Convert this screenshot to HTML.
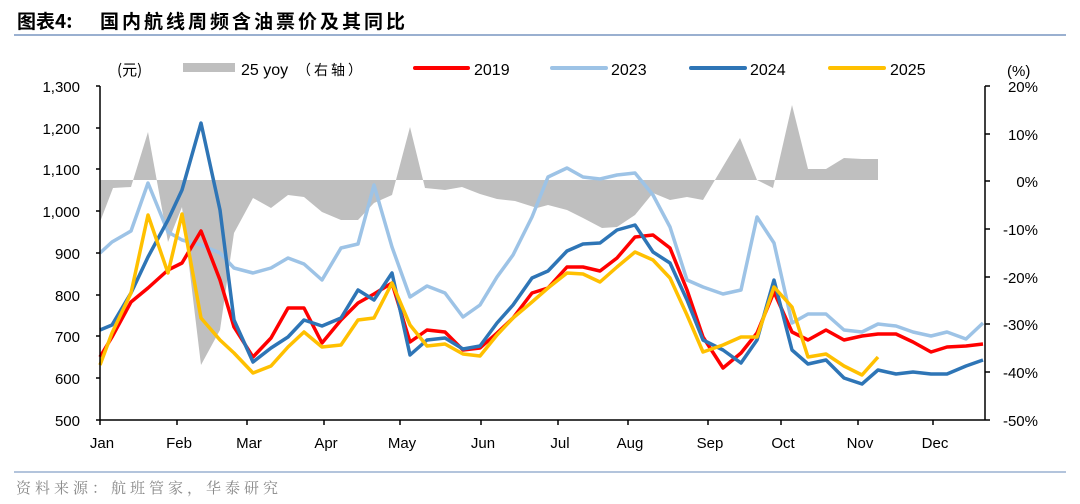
<!DOCTYPE html>
<html><head><meta charset="utf-8"><style>
body{margin:0;background:#fff;}
svg{display:block;font-family:"Liberation Sans","Noto Sans CJK SC",sans-serif;}
</style></head><body>
<svg width="1080" height="504" viewBox="0 0 1080 504" xmlns="http://www.w3.org/2000/svg">
<text x="17" y="28" font-size="19" font-weight="bold" font-family="'Noto Sans CJK SC',sans-serif">图表4:</text>
<text x="100" y="28" font-size="19" font-weight="bold" font-family="'Noto Sans CJK SC',sans-serif" letter-spacing="3">国内航线周频含油票价及其同比</text>
<line x1="14" y1="35" x2="1066" y2="35" stroke="#9ab0d0" stroke-width="2"/>
<!-- legend -->
<text x="117" y="75" font-size="15" font-family="'Noto Sans CJK SC',sans-serif">(元)</text>
<rect x="183" y="63" width="52" height="9" fill="#bfbfbf"/>
<text x="241" y="75" font-size="16">25 yoy</text>
<text x="297" y="75" font-size="14" letter-spacing="3" font-family="'Noto Sans CJK SC',sans-serif">（右轴）</text>
<line x1="415" y1="68" x2="468" y2="68" stroke="#ff0000" stroke-width="4" stroke-linecap="round"/>
<text x="474" y="75" font-size="16">2019</text>
<line x1="552" y1="68" x2="606" y2="68" stroke="#9dc3e6" stroke-width="4" stroke-linecap="round"/>
<text x="611" y="75" font-size="16">2023</text>
<line x1="691" y1="68" x2="745" y2="68" stroke="#2e75b6" stroke-width="4" stroke-linecap="round"/>
<text x="750" y="75" font-size="16">2024</text>
<line x1="830" y1="68" x2="884" y2="68" stroke="#ffc000" stroke-width="4" stroke-linecap="round"/>
<text x="890" y="75" font-size="16">2025</text>
<text x="1007" y="76" font-size="15">(%)</text>
<!-- area -->
<polygon fill="#bfbfbf" points="100,180 100,222 113,188 131,187 148,132 168,242 182,207 201,365 220,330 234,233 253,198 271,208 288,195 304,197 322,212 341,220 358,220 374,203 392,195 410,127 425,188 445,190 462,187 480,194 497,199 515,201 537,208 548,205 567,210 583,218 602,228 617,227 635,215 653,193 670,200 687,197 703,200 740,138 757,180 773,188 792,105 808,169 826,169 844,158 862,159 878,159 878,180"/>
<g fill="none" stroke-width="3.5" stroke-linejoin="round">
<polyline stroke="#9dc3e6" points="100,253 112,242 131,231 148,183 168,232 182,240 201,245 220,253 234,268 253,273 271,268 288,258 304,264 322,280 341,248 358,244 374,185 392,247 410,297 427,286 445,293 463,317 480,305 497,277 513,255 532,217 548,177 567,168 583,177 600,179 617,175 635,173 653,195 670,227 687,280 703,287 723,294 741,290 757,217 774,243 792,323 808,314 826,314 844,330 862,332 878,324 896,326 913,332 931,336 947,332 966,339 983,323"/>
<polyline stroke="#ff0000" points="100,357 112,337 131,302 148,288 168,270 182,263 201,231 220,280 234,327 253,357 271,338 288,308 304,308 322,343 341,320 358,303 374,294 392,283 410,342 427,330 445,332 463,350 480,348 497,333 513,318 532,293 548,288 567,267 583,267 600,271 617,258 635,237 653,235 670,248 687,290 703,337 723,368 741,353 757,333 774,292 792,332 808,340 826,330 844,340 862,336 878,334 896,334 913,342 931,352 947,347 966,346 983,344"/>
<polyline stroke="#2e75b6" points="100,330 112,325 131,293 148,257 168,220 182,190 201,123 220,210 234,320 253,362 271,348 288,337 304,320 322,326 341,318 358,290 374,300 392,273 410,355 427,340 445,338 463,349 480,346 497,323 513,305 532,278 548,271 567,251 583,244 600,243 617,230 635,225 653,252 670,263 687,300 703,340 723,350 741,363 757,340 774,280 792,350 808,364 826,360 844,378 862,384 878,370 896,374 913,372 931,374 947,374 966,366 983,360"/>
<polyline stroke="#ffc000" points="100,365 112,333 131,293 148,215 168,273 182,214 201,318 220,340 234,353 253,373 271,366 288,347 304,332 322,347 341,345 358,320 374,318 392,283 410,325 427,346 445,344 463,354 480,356 497,335 513,318 532,302 548,288 567,273 583,274 600,282 617,267 635,252 653,260 670,278 687,315 703,352 723,345 741,337 757,337 774,287 792,307 808,357 826,354 844,366 862,375 878,357"/>
</g>
<!-- axes -->
<g stroke="#000" stroke-width="1.5" fill="none">
<line x1="100" y1="86" x2="100" y2="420"/>
<line x1="100" y1="420" x2="985" y2="420"/>
<line x1="985" y1="86" x2="985" y2="420"/>
<path d="M96,86H100M96,128H100M96,169H100M96,211H100M96,253H100M96,295H100M96,336H100M96,378H100M96,420H100"/>
<path d="M985,86H990M985,134H990M985,181H990M985,229H990M985,277H990M985,324H990M985,372H990M985,420H990"/>
<path d="M100,420V425M177,420V425M247,420V425M324,420V425M400,420V425M481,420V425M558,420V425M628,420V425M708,420V425M781,420V425M858,420V425M933,420V425"/>
</g>
<g font-size="15" text-anchor="end">
<text x="80" y="92">1,300</text><text x="80" y="134">1,200</text><text x="80" y="175">1,100</text><text x="80" y="217">1,000</text><text x="80" y="259">900</text><text x="80" y="301">800</text><text x="80" y="342">700</text><text x="80" y="384">600</text><text x="80" y="426">500</text>
</g>
<g font-size="15" text-anchor="end">
<text x="1038" y="92">20%</text><text x="1038" y="140">10%</text><text x="1038" y="187">0%</text><text x="1038" y="235">-10%</text><text x="1038" y="283">-20%</text><text x="1038" y="330">-30%</text><text x="1038" y="378">-40%</text><text x="1038" y="426">-50%</text>
</g>
<g font-size="15" text-anchor="middle">
<text x="102" y="448">Jan</text><text x="179" y="448">Feb</text><text x="249" y="448">Mar</text><text x="326" y="448">Apr</text><text x="402" y="448">May</text><text x="483" y="448">Jun</text><text x="560" y="448">Jul</text><text x="630" y="448">Aug</text><text x="710" y="448">Sep</text><text x="783" y="448">Oct</text><text x="860" y="448">Nov</text><text x="935" y="448">Dec</text>
</g>
<line x1="14" y1="472" x2="1066" y2="472" stroke="#9ab0d0" stroke-width="1.5"/>
<text x="16" y="493" font-size="15" fill="#888" letter-spacing="4" font-family="'Noto Serif CJK SC','Noto Sans CJK SC',serif">资料来源：航班管家，华泰研究</text>
</svg>
</body></html>
